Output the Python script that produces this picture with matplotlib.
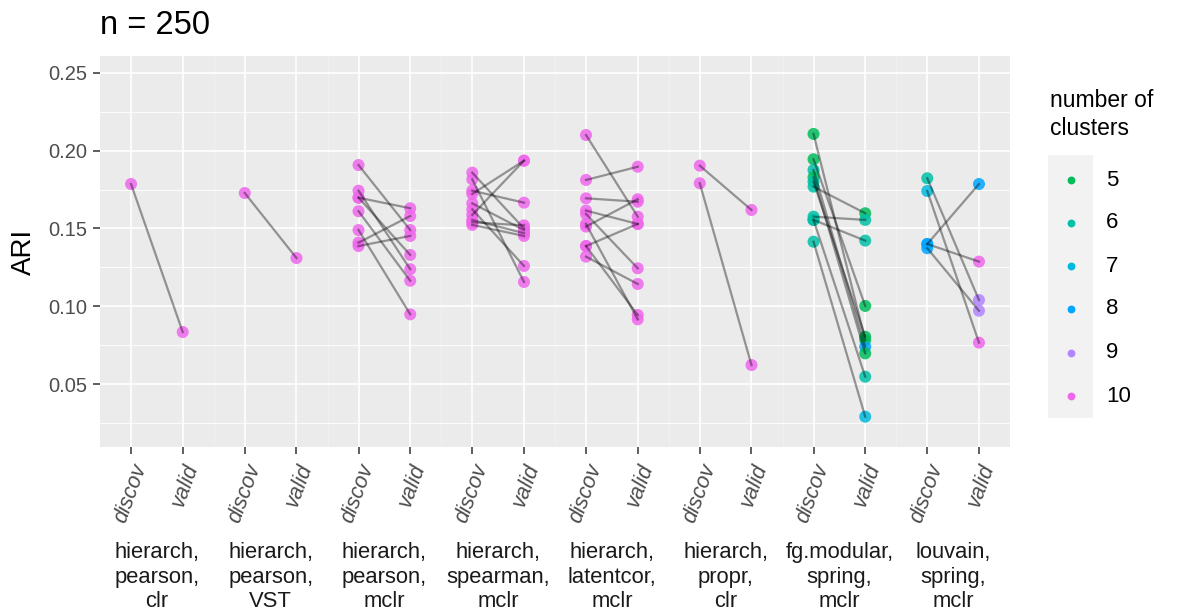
import matplotlib
matplotlib.use("Agg")
import matplotlib.pyplot as plt
import matplotlib.transforms as mtransforms

plt.rcParams['font.family'] = ['Liberation Sans', 'DejaVu Sans']

# ---------------- data ----------------
groups = ["hierarch,\npearson,\nclr", "hierarch,\npearson,\nVST", "hierarch,\npearson,\nmclr",
          "hierarch,\nspearman,\nmclr", "hierarch,\nlatentcor,\nmclr", "hierarch,\npropr,\nclr",
          "fg.modular,\nspring,\nmclr", "louvain,\nspring,\nmclr"]
splits = ["discov", "valid"]

pair_group = ([0] + [1] + [2] * 8 + [3] * 10 + [4] * 10 + [5] * 2 + [6] * 10 + [7] * 5)
discov_ari = [0.1786,
              0.1728,
              0.1908, 0.1698, 0.1743, 0.1698, 0.1611, 0.1490, 0.1409, 0.1387,
              0.1859, 0.1816, 0.1743, 0.1722, 0.1662, 0.1623, 0.1587, 0.1555, 0.1540, 0.1523,
              0.2101, 0.1812, 0.1694, 0.1615, 0.1593, 0.1529, 0.1512, 0.1387, 0.1387, 0.1319,
              0.1904, 0.1791,
              0.2108, 0.1945, 0.1876, 0.1829, 0.1801, 0.1769, 0.1576, 0.1555, 0.1555, 0.1415,
              0.1823, 0.1741, 0.1400, 0.1400, 0.1373]
valid_ari = [0.0834,
             0.1310,
             0.1490, 0.1630, 0.1238, 0.1330, 0.1164, 0.0948, 0.1580, 0.1452,
             0.1500, 0.1156, 0.1666, 0.1936, 0.1490, 0.1259, 0.1936, 0.1470, 0.1520, 0.1452,
             0.1576, 0.1897, 0.1672, 0.1529, 0.1244, 0.0916, 0.1688, 0.1529, 0.0944, 0.1143,
             0.1619, 0.0622,
             0.0783, 0.1002, 0.0740, 0.0697, 0.0804, 0.1598, 0.1555, 0.1422, 0.0547, 0.0290,
             0.1040, 0.0766, 0.1786, 0.1287, 0.0971]
discov_k = [10,
            10,
            10, 10, 10, 10, 10, 10, 10, 10,
            10, 10, 10, 10, 10, 10, 10, 10, 10, 10,
            10, 10, 10, 10, 10, 10, 10, 10, 10, 10,
            10, 10,
            5, 5, 6, 5, 6, 6, 6, 6, 6, 6,
            6, 7, 8, 8, 8]
valid_k = [10,
           10,
           10, 10, 10, 10, 10, 10, 10, 10,
           10, 10, 10, 10, 10, 10, 10, 10, 10, 10,
           10, 10, 10, 10, 10, 10, 10, 10, 10, 10,
           10, 10,
           5, 5, 8, 5, 5, 5, 6, 6, 6, 7,
           9, 10, 8, 10, 9]
k_levels = [5, 6, 7, 8, 9, 10]
k_colors = ["#00BD5C", "#00C1A7", "#00BADE", "#00A6FF", "#B385FF", "#EF67EB"]
yticks = [0.05, 0.10, 0.15, 0.20, 0.25]
title = "n = 250"
ylabel = "ARI"
legend_title = "number of\nclusters"

# ---------------- layout ----------------
W, H = 1184, 615
fig = plt.figure(figsize=(W / 100, H / 100), dpi=100)
L, R, B, T = 100, 1010, 447, 56
ax = fig.add_axes([L / W, 1 - B / H, (R - L) / W, (B - T) / H])
ax.set_facecolor("#EBEBEB")
for s in ax.spines.values():
    s.set_visible(False)

PW = 2.2
ng = len(groups)
ax.set_xlim(0, ng * PW)
ax.set_ylim(0.0095, 0.2609)

xpos = []
xlab = []
for g in range(ng):
    for j, sname in enumerate(splits):
        xpos.append(g * PW + 0.6 + j)
        xlab.append(sname)

# grid
ax.set_axisbelow(True)
ax.set_yticks(yticks)
ax.set_yticks([0.025, 0.075, 0.125, 0.175, 0.225], minor=True)
ax.set_xticks(xpos)
ax.grid(True, which="major", color="white", lw=1.2)
ax.grid(True, which="minor", axis="y", color="white", lw=0.6)
for g in range(1, ng):
    ax.axvline(g * PW, color="white", lw=0.6, alpha=0.35, zorder=0.5)

ax.set_yticklabels([f"{v:.2f}" for v in yticks], fontsize=14.5, color="#4D4D4D")
ax.set_xticklabels(xlab, rotation=70, ha="right", va="top", fontsize=15.5,
                   color="#4D4D4D", style="italic", rotation_mode="anchor")
ax.tick_params(axis="both", which="major", length=5, width=1.1, color="#333333", pad=4)
ax.tick_params(axis="x", which="major", pad=5)
ax.tick_params(axis="y", which="minor", length=0)
ax.set_ylabel(ylabel, fontsize=20, labelpad=8)

cmap = dict(zip(k_levels, k_colors))
for gi, d, v, kd, kv in zip(pair_group, discov_ari, valid_ari, discov_k, valid_k):
    x0 = gi * PW + 0.6
    x1 = x0 + 1
    ax.scatter([x0, x1], [d, v], s=75, c=[cmap[kd], cmap[kv]], alpha=0.85,
               linewidths=0, zorder=3)
    ax.plot([x0, x1], [d, v], color="black", alpha=0.38, lw=1.6, zorder=4)

# strip labels at bottom
trans = mtransforms.blended_transform_factory(ax.transData, fig.transFigure)
for g, lab in enumerate(groups):
    fig.text(g * PW + PW / 2, 1 - 542 / H, lab, transform=trans, ha="center", va="top",
             fontsize=15.8, color="#1A1A1A", linespacing=1.22)

# title
fig.text(L / W, 1 - 25 / H, title, fontsize=23.5, ha="left", va="center")

# legend
fig.text(1050 / W, 1 - 89 / H, legend_title, fontsize=16.5, ha="left", va="top",
         linespacing=1.28)
lax = fig.add_axes([1048 / W, 1 - 418 / H, 45 / W, 263 / H])
lax.set_xlim(0, 1)
lax.set_ylim(418, 155)
lax.set_facecolor("#F2F2F2")
for s in lax.spines.values():
    s.set_visible(False)
lax.set_xticks([])
lax.set_yticks([])
key_y = [180, 223, 266, 309, 353, 396]
for k, c, yy in zip(k_levels, k_colors, key_y):
    lax.scatter([0.5], [yy], s=32, color=c, linewidths=0)
    fig.text(1106 / W, 1 - yy / H, str(k), fontsize=16, ha="left", va="center")

fig.savefig("out.png", dpi=100)
